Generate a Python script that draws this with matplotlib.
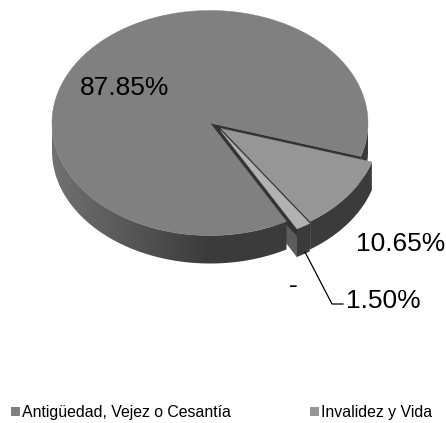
import numpy as np
import matplotlib
matplotlib.use("Agg")
import matplotlib.pyplot as plt
from matplotlib.patches import Polygon, Rectangle

plt.rcParams['font.family'] = ['Liberation Sans', 'DejaVu Sans']

categories = ['Antigüedad, Vejez o Cesantía', 'Invalidez y Vida', '']
shares = [87.85, 10.65, 1.50]
colors = ['#808080', '#969696', '#b2b2b2']

RX, RY, DEPTH = 158, 112.5, 28
START = -17.3  # degrees, where first slice begins (going clockwise)

fig = plt.figure(figsize=(4.46, 4.23), dpi=100)
ax = fig.add_axes([0, 0, 1, 1])
ax.set_xlim(0, 446)
ax.set_ylim(423, 0)
ax.axis('off')

# slice angles, clockwise
sweeps = np.array(shares) / sum(shares) * 360
t_inv = (START, START - sweeps[1])
t_small = (t_inv[1], t_inv[1] - sweeps[2])
t_main = (t_small[1], START - 360)

# horizontal shading used for the outer walls
ramp = np.linspace(0x72, 0x3b, 160).reshape(1, -1) / 255
ramp = np.hstack([ramp, np.full((1, 240), 0x3b / 255)])


def arc(cx, cy, t1, t2, n=300):
    t = np.radians(np.linspace(t1, t2, n))
    return cx + RX * np.cos(t), cy - RY * np.sin(t)


def wall(cx, cy, t1, t2, z):
    x, y = arc(cx, cy, t1, t2)
    pts = list(zip(x, y)) + list(zip(x[::-1], y[::-1] + DEPTH))
    clip = Polygon(pts, fc='none', ec='none', transform=ax.transData)
    ax.add_patch(clip)
    im = ax.imshow(ramp, extent=(50, 450, 423, 0), cmap='gray', vmin=0, vmax=1,
                   aspect='auto', zorder=z, interpolation='bilinear')
    im.set_clip_path(clip)


def side(cx, cy, t1, t2, z):
    # outer wall, only the part facing the viewer (sin < 0)
    lo = t2
    hi = t1
    for a, b in [(0, -180), (-360, -540)]:
        s, e = min(hi, a), max(lo, b)
        if s > e:
            wall(cx, cy, s, e, z)


def cut(cx, cy, t, color, z):
    x, y = arc(cx, cy, t, t, 1)
    pts = [(cx, cy), (x[0], y[0]), (x[0], y[0] + DEPTH), (cx, cy + DEPTH)]
    ax.add_patch(Polygon(pts, fc=color, ec=color, lw=0.3, zorder=z))


def top(cx, cy, t1, t2, color, z):
    x, y = arc(cx, cy, t1, t2)
    pts = [(cx, cy)] + list(zip(x, y))
    ax.add_patch(Polygon(pts, fc=color, ec=color, lw=0.3, zorder=z))


# walls of the cut faces sit under the main top
cut(220.5, 130.5, t_small[1], '#5c5c5c', 1)
side(210, 123, t_main[0], t_main[1], 2)
cut(210, 123, t_main[1], '#333333', 2.2)
cut(221, 128.5, t_inv[1], '#333333', 2.4)
top(210, 123, t_main[0], t_main[1], colors[0], 3)

# invalidez
side(221, 128.5, t_inv[0], t_inv[1], 4)
top(221, 128.5, t_inv[0], t_inv[1], colors[1], 5)

# small slice
side(220.5, 130.5, t_small[0], t_small[1], 6)
top(220.5, 130.5, t_small[0], t_small[1], colors[2], 7)

ax.set_xlim(0, 446)
ax.set_ylim(423, 0)

# labels
fs = 19
ax.text(125, 88, f'{shares[0]:.2f}%', fontsize=fs, ha='center', va='center', zorder=10)
ax.text(401, 244, f'{shares[1]:.2f}%', fontsize=fs, ha='center', va='center', zorder=10)
ax.text(383, 301, f'{shares[2]:.2f}%', fontsize=fs, ha='center', va='center', zorder=10)
ax.text(293, 286, '-', fontsize=fs, ha='center', va='center', zorder=10)
ax.plot([305, 332, 343], [252, 304, 304], color='black', lw=0.9, zorder=9)

# legend
handles = [Rectangle((0, 0), 1, 1, fc=colors[0]), Rectangle((0, 0), 1, 1, fc=colors[1])]
ax.legend(handles, categories[:2], ncol=2, frameon=False, fontsize=11.45,
          loc='lower left', bbox_to_anchor=(6 / 446, -2 / 423), borderaxespad=0, borderpad=0.3,
          handlelength=0.55, handleheight=0.55, handletextpad=0.15, columnspacing=5.0)

fig.savefig('out.png', dpi=100)
